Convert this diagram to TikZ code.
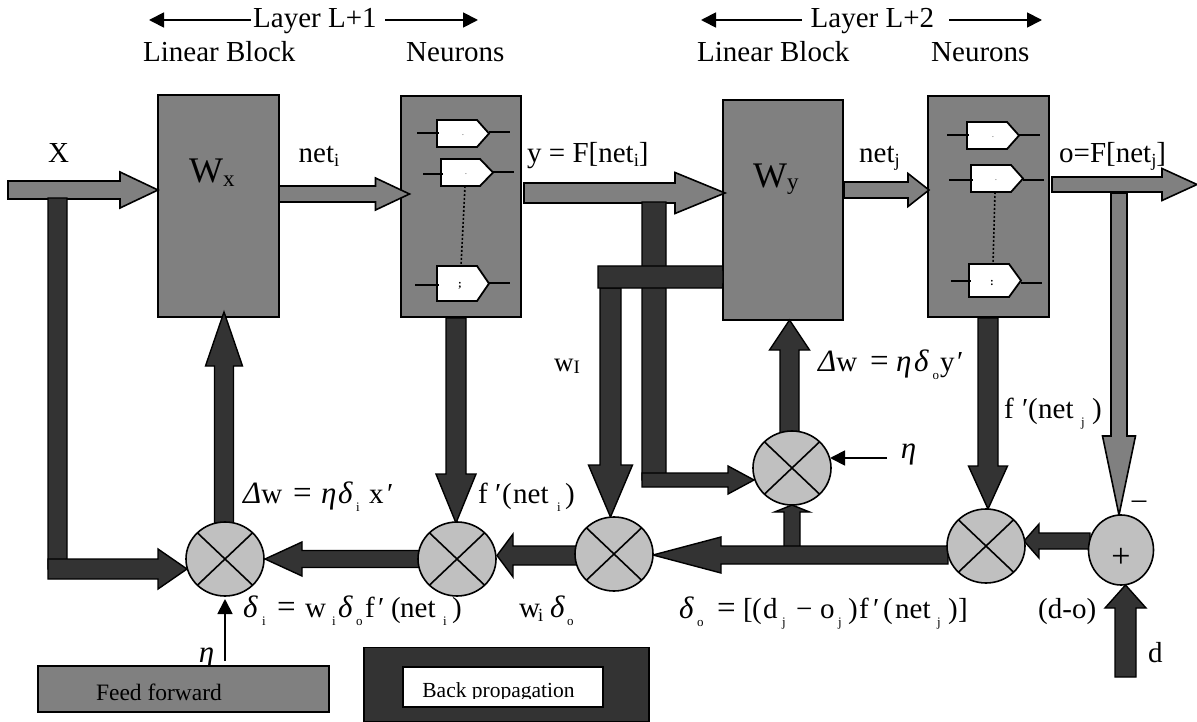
\documentclass[tikz,border=0pt]{standalone}
\usepackage{fontspec}
\setmainfont{Liberation Serif}
\usetikzlibrary{calc,shapes.geometric,arrows.meta}
\definecolor{gmid}{HTML}{808080}
\definecolor{gdark}{HTML}{333333}
\definecolor{glight}{HTML}{C0C0C0}
\newcommand\barrow[6]{%
  \coordinate (bap) at ($(#3)!#6pt!(#2)$);
  \filldraw[#1] ($(#2)!#4pt!90:(#3)$) -- ($(bap)!#4pt!90:(#3)$) -- ($(bap)!#5pt!90:(#3)$) -- (#3)
   -- ($(bap)!#5pt!-90:(#3)$) -- ($(bap)!#4pt!-90:(#3)$) -- ($(#2)!#4pt!-90:(#3)$) -- cycle;}
\newcommand\mulnode[3]{%
  \node[mulcirc] (#1) at (#2,#3) {};
  \draw[line width=1.6pt] (#1.north east) -- (#1.south west) (#1.north west) -- (#1.south east);}
% name, x, shoulder, tip, top, bottom, input x, input y, output y
\newcommand\gate[9]{%
  \filldraw[fill=white,draw=black,line width=1.8pt] (#2,#5) -- (#3,#5) -- (#4,{(#5+#6)/2}) -- (#3,#6) -- (#2,#6) -- cycle;
  \draw[line width=1.4pt] (#7,#8) -- ({#2+2},#8) (#4,#9) -- ({#4+21},#9);
  \coordinate (#1top) at ({#2+24},#5);
  \coordinate (#1bot) at ({#2+24},#6);}
\newcommand\ts[1]{\raisebox{-8pt}{\fontsize{13}{13}\selectfont #1}}
\newcommand\bs[1]{\raisebox{-4pt}{\fontsize{18.5}{18}\selectfont #1}}
\newcommand\gk[1]{{\fontsize{31}{32}\selectfont\itshape #1}}
\newcommand\eqs{{\fontsize{33}{32}\selectfont =}}
\newcommand\pc[2]{\makebox[#1pt][l]{#2}}
\tikzset{
  x=1pt,y=-1pt,
  gray block/.style={draw=black,line width=1.6pt,fill=gmid,inner sep=0pt},
  dark block/.style={draw=black,line width=1.6pt,fill=gdark,inner sep=0pt},
  garrow/.style={draw=black,line width=1.6pt,fill=gmid},
  darrow/.style={draw=black,line width=1.4pt,fill=gdark},
  mulcirc/.style={ellipse,draw=black,line width=1.6pt,fill=glight,minimum width=78pt,minimum height=74pt,inner sep=0pt,outer sep=0pt},
  lab/.style={inner sep=0pt,anchor=base west,font=\fontsize{29}{32}\selectfont},
  thin arrow/.style={line width=1.8pt,-{Triangle[length=15pt,width=15pt]}},
}
\begin{document}
\begin{tikzpicture}
\useasboundingbox (0,0) rectangle (1197,722);
% blocks
\node[gray block,minimum width=121pt,minimum height=222pt] (Wx) at (218.5,206) {};
\node[gray block,minimum width=120pt,minimum height=221pt] (N1) at (461,206.5) {};
\node[gray block,minimum width=120pt,minimum height=220pt] (Wy) at (783,210) {};
\node[gray block,minimum width=121pt,minimum height=221pt] (N2) at (988.5,206.5) {};
% gates
\gate{ga}{437}{477}{489}{120}{147}{417}{133}{132}
\gate{gb}{441}{480}{493}{159}{186}{423}{174}{172}
\gate{gc}{437}{477}{489}{266}{301}{415}{285}{283}
\gate{gd}{967}{1007}{1019}{122}{149}{947}{135}{135}
\gate{ge}{971}{1011}{1023}{165}{192}{949}{180}{180}
\gate{gf}{969}{1009}{1021}{264}{297}{951}{281}{283}
\draw[line width=1.6pt,dash pattern=on 2pt off 2pt] (gbbot) -- (gctop);
\draw[line width=1.6pt,dash pattern=on 2pt off 2pt] (gebot) -- (gftop);
\node[inner sep=0pt,font=\fontsize{5}{6}\selectfont] (ma) at (463,136) {-};
\node[inner sep=0pt,font=\fontsize{5}{6}\selectfont] (mb) at (466,175) {-};
\node[inner sep=0pt,font=\bfseries\fontsize{11}{12}\selectfont] (mc) at (460,286) {;};
\node[inner sep=0pt,font=\fontsize{5}{6}\selectfont] (md) at (993,138) {-};
\node[inner sep=0pt,font=\fontsize{5}{6}\selectfont] (me) at (996,181) {-};
\node[inner sep=0pt,font=\bfseries\fontsize{11}{12}\selectfont] (mf) at (992,283) {:};
% named ends
\coordinate (xs) at (8,190);
\coordinate (xt) at (158,190);
\coordinate (nis) at (279,194);
\coordinate (nit) at (409.5,194);
\coordinate (ys) at (524,193);
\coordinate (yt) at (725,193);
\coordinate (njs) at (844,190);
\coordinate (njt) at (929,190);
\coordinate (os) at (1052,184.5);
\coordinate (ot) at (1197,184.5);
\coordinate (gs) at (1119,193);
\coordinate (gt) at (1119,515);
\coordinate (ls) at (57.5,198);
\coordinate (le) at (57.5,569);
\coordinate (lh) at (48,569);
\coordinate (lt) at (187,569);
\coordinate (us) at (224,523);
\coordinate (ut) at (224,312);
\coordinate (n1s) at (456,318);
\coordinate (n1t) at (456,523);
\coordinate (n2s) at (988,318);
\coordinate (n2t) at (988,509);
\coordinate (c21s) at (419,559);
\coordinate (c21t) at (265,559);
\coordinate (c32s) at (577,555.5);
\coordinate (c32t) at (497,555.5);
\coordinate (c53s) at (948,555);
\coordinate (c53t) at (653,555);
\coordinate (p5s) at (1090,541);
\coordinate (p5t) at (1024,541);
\coordinate (ds) at (1125.5,677);
\coordinate (dt) at (1125.5,585);
\coordinate (ss) at (792,550);
\coordinate (st) at (792,505);
\coordinate (c4us) at (789.5,433);
\coordinate (c4ut) at (789.5,320);
\coordinate (vs) at (654,202);
\coordinate (ve) at (654,480);
\coordinate (hs) at (642,480);
\coordinate (ht) at (754,480);
\coordinate (bs) at (610.5,288);
\coordinate (bt) at (610.5,517);
\coordinate (bl) at (598,277);
\coordinate (br) at (723,277);
% grey arrows
\barrow{garrow}{xs}{xt}{9}{18}{38}
\barrow{garrow}{nis}{nit}{8}{16}{34}
\barrow{garrow}{ys}{yt}{10}{20.5}{50}
\barrow{garrow}{njs}{njt}{8}{16.5}{21}
\barrow{garrow}{os}{ot}{7.5}{16}{35}
\barrow{garrow}{gs}{gt}{8}{16.5}{79}
% dark arrows
\barrow{darrow}{ls}{le}{9.5}{9.5}{0.1}
\barrow{darrow}{lh}{lt}{10}{20}{29}
\barrow{darrow}{us}{ut}{9.5}{18.5}{54}
\barrow{darrow}{n1s}{n1t}{10}{20}{49}
\barrow{darrow}{n2s}{n2t}{10}{19.5}{43}
\barrow{darrow}{vs}{ve}{12}{12}{0.1}
\barrow{darrow}{hs}{ht}{7}{14}{26}
\barrow{darrow}{bs}{bt}{10.5}{22}{52}
\barrow{darrow}{bl}{br}{11}{11}{0.1}
\barrow{darrow}{ss}{st}{8}{17.5}{7}
\barrow{darrow}{c53s}{c53t}{9}{18}{68}
\barrow{darrow}{c21s}{c21t}{8.5}{17}{37}
\barrow{darrow}{c32s}{c32t}{9.5}{21.5}{16}
\barrow{darrow}{p5s}{p5t}{8}{17}{15}
\barrow{darrow}{ds}{dt}{10.5}{20.5}{23}
\barrow{darrow}{c4us}{c4ut}{9.5}{20}{30}
% multipliers
\mulnode{c1}{225}{559}
\mulnode{c2}{457}{559}
\mulnode{c3}{614}{554}
\mulnode{c4}{792}{468}
\mulnode{c5}{986}{546}
\node[ellipse,draw=black,line width=1.6pt,fill=glight,minimum width=65pt,minimum height=70pt,inner sep=0pt] (plus) at (1121,550) {};
\node[inner sep=0pt,font=\fontsize{34}{36}\selectfont] (plusm) at (1121,558) {+};
\node[inner sep=0pt,font=\fontsize{29}{30}\selectfont] (minus) at (1139,505) {–};
% thin arrows
\node[lab,anchor=base] (eta1) at (206.5,662) {\gk{η}};
\coordinate (e1s) at (225,661);
\coordinate (e1t) at (225,599);
\draw[thin arrow] (e1s) -- (e1t);
\node[lab,anchor=base] (eta2) at (908.5,458) {\gk{η}};
\coordinate (e2s) at (887,458);
\coordinate (e2t) at (830,458);
\draw[thin arrow] (e2s) -- (e2t);
% headers
\node[lab] (L1) at (253,28) {Layer L+1};
\node[lab] (L2) at (810.5,28) {Layer L+2};
\coordinate (L1a) at (149,20); \coordinate (L1b) at (478,20);
\coordinate (L2a) at (701,20); \coordinate (L2b) at (1042,20);
\coordinate (L1d) at (385,20); \coordinate (L1c) at (251,20);
\coordinate (L2c) at (802,20); \coordinate (L2d) at (949,20);
\draw[thin arrow] (L1c) -- (L1a);
\draw[thin arrow] (L1d) -- (L1b);
\draw[thin arrow] (L2c) -- (L2a);
\draw[thin arrow] (L2d) -- (L2b);
\node[lab] (lb1) at (143,62) {Linear Block};
\node[lab] (nr1) at (406,62) {Neurons};
\node[lab] (lb2) at (697,62) {Linear Block};
\node[lab] (nr2) at (931,62) {Neurons};
% labels
\node[lab] (X) at (48,163) {X};
\node[lab,font=\fontsize{36}{40}\selectfont] (Wxl) at (189,183) {W\raisebox{-4pt}{\fontsize{23}{23}\selectfont x}};
\node[lab,font=\fontsize{36}{40}\selectfont] (Wyl) at (753,188) {W\raisebox{-2pt}{\fontsize{23}{23}\selectfont y}};
\node[lab] (neti) at (298.5,163) {net\bs{i}};
\node[lab] (netj) at (859,163) {net\bs{j}};
\node[lab] (yeq) at (527,163) {y = F[net\bs{i}]};
\node[lab] (oeq) at (1059,163) {o=F[net\bs{j}]};
\node[lab,font=\fontsize{27}{30}\selectfont] (wI) at (554,371) {w\raisebox{-2pt}{\fontsize{19}{19}\selectfont I}};
\node[lab] (dw1) at (243,503) {\pc{50}{\gk{Δ}w}\pc{28}{\eqs}\pc{17}{\gk{η}}\pc{18}{\gk{δ}}\pc{13}{\ts{i}}\pc{18}{x}′};
\node[lab] (f1) at (478,503) {\pc{17}{f}\pc{7}{′}\pc{11}{(}\pc{44}{net}\pc{8}{\ts{i}})};
\node[lab] (di) at (243,617) {\pc{19}{\gk{δ}}\pc{15}{\ts{i}}\pc{28}{\eqs}\pc{27}{w}\pc{6}{\ts{i}}\pc{18}{\gk{δ}}\pc{9}{\ts{o}}\pc{13}{f}\pc{13}{′}\pc{9}{(}\pc{43}{net}\pc{9}{\ts{i}})};
\node[lab] (wd) at (519,617) {\pc{19}{w}\pc{12}{\bs{i}}\pc{17}{\gk{δ}}\ts{o}};
\node[lab] (dw2) at (818,371) {\pc{52}{\gk{Δ}w}\pc{26}{\eqs}\pc{18}{\gk{η}}\pc{18.5}{\gk{δ}}\pc{7.5}{\ts{o}}\pc{17}{y}′};
\node[lab] (f2) at (1004,418) {\pc{18}{f}\pc{6}{′}\pc{10}{(}\pc{43}{net}\pc{11}{\ts{j}})};
\node[lab] (do) at (679,618) {\pc{18}{\gk{δ}}\pc{20}{\ts{o}}\pc{26}{\eqs}\pc{9}{[}\pc{11}{(}\pc{19}{d}\pc{14}{\ts{j}}\pc{24}{−}\pc{18}{o}\pc{10}{\ts{j}}\pc{11}{)}\pc{14}{f}\pc{10}{′}\pc{12}{(}\pc{42}{net}\pc{11}{\ts{j}}\pc{10}{)}]};
\node[lab] (dmo) at (1038,618) {(d-o)};
\node[lab] (dl) at (1148,662) {d};
% legend
\node[gray block,minimum width=291pt,minimum height=46pt] (ff) at (183.5,689) {};
\node[inner sep=0pt,anchor=base,font=\fontsize{23.5}{26}\selectfont] (fft) at (159,700) {Feed forward};
\node[dark block,minimum width=285pt,minimum height=74pt] (bp) at (506.5,684.5) {};
\node[draw=black,line width=1.6pt,fill=white,inner sep=0pt,minimum width=200pt,minimum height=40pt] (bpi) at (503,687) {};
\begin{scope}
\clip (403,667) rectangle (603,698);
\node[inner sep=0pt,anchor=base,font=\fontsize{21.5}{24}\selectfont] (bpt) at (498.5,697) {Back propagation};
\end{scope}
\end{tikzpicture}
\end{document}
